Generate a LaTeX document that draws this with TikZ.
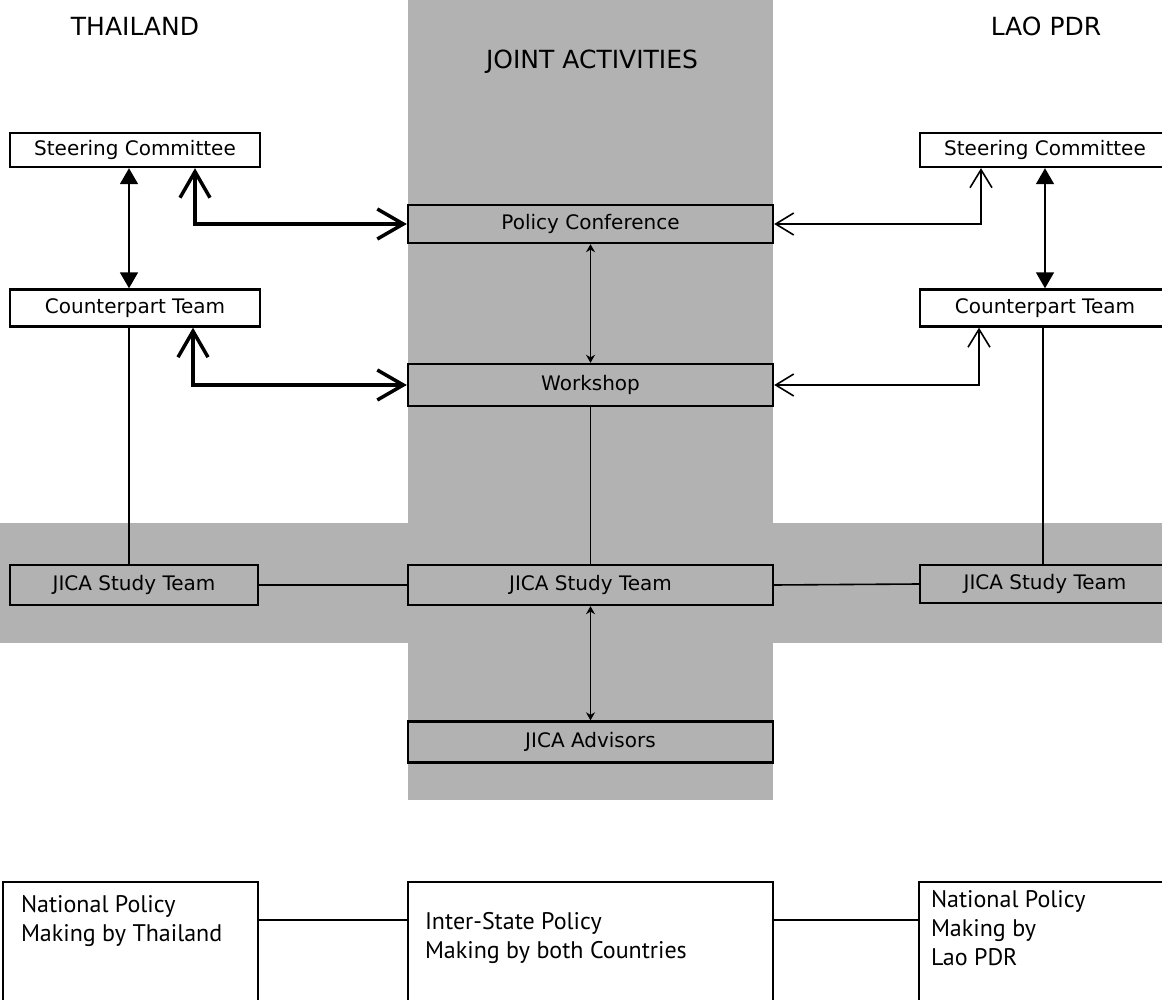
\documentclass[tikz,border=0pt]{standalone}
\usepackage{fontspec}
\setmainfont{DejaVu Sans}
\newfontfamily\policyfont{PT Sans}
\usetikzlibrary{arrows.meta,positioning}
\begin{document}
\begin{tikzpicture}[x=1pt,y=-1pt,
  halftone/.style={fill=black!30},
  box/.style={draw, line width=2.4pt, fill=white, minimum width=250, minimum height=36, inner sep=0, font=\fontsize{20}{22}\selectfont},
  jointbox/.style={box, halftone, minimum width=365, minimum height=39},
  policybox/.style={draw, line width=2.4pt, fill=white, minimum height=128, inner sep=0},
  ptext/.style={inner sep=0, align=left, anchor=north west, font=\policyfont\fontsize{24}{29}\selectfont},
  heading/.style={font=\fontsize{25}{27}\selectfont},
  link/.style={draw, line width=1.6pt},
  boldlink/.style={draw, line width=3.5pt, {Straight Barb[length=26pt,width=30pt]}-{Straight Barb[length=26pt,width=30pt]}},
  thinlink/.style={draw, line width=1.6pt, {Straight Barb[length=18pt,width=22pt]}-{Straight Barb[length=18pt,width=22pt]}},
  duallink/.style={draw, line width=1.6pt, {Triangle[length=16pt,width=18pt]}-{Triangle[length=16pt,width=18pt]}},
  smalllink/.style={draw, line width=1.6pt, {Stealth[length=8pt,width=9pt]}-{Stealth[length=8pt,width=9pt]}}
]
\useasboundingbox (0,0) rectangle (1162,1000);
\clip (0,0) rectangle (1162,1000);

% shaded bands
\fill[halftone] (408,0) rectangle (773,800);
\fill[halftone] (0,523) rectangle (1162,643);

% headings
\node[heading] (thai) at (135,26) {THAILAND};
\node[heading] (lao) at (1046,26) {LAO PDR};
\node[heading] (joint) at (592,62) {JOINT ACTIVITIES};

% Thailand side
\node[box, minimum height=34] (lsc) at (135,150) {Steering Committee};
\node[box, minimum height=37] (lct) at (135,308) {Counterpart Team};
\node[box, halftone, minimum width=248, minimum height=40] (ljt) at (134,585) {JICA Study Team};

% joint activities
\node[jointbox, minimum height=38] (pc) at (590.5,224) {Policy Conference};
\node[jointbox, minimum height=42] (ws) at (590.5,385) {Workshop};
\node[jointbox, minimum height=40] (cjt) at (590.5,585) {JICA Study Team};
\node[jointbox, minimum height=41] (adv) at (590.5,742) {JICA Advisors};

% Lao PDR side
\node[box, minimum height=34] (rsc) at (1045,150) {Steering Committee};
\node[box, minimum height=37] (rct) at (1045,308) {Counterpart Team};
\node[box, halftone, minimum height=38] (rjt) at (1045,584) {JICA Study Team};

% policy making
\node[policybox, minimum width=255] (lnp) at (130.5,946) {};
\node[policybox, minimum width=365] (mip) at (590.5,946) {};
\node[policybox, minimum width=251] (rnp) at (1044.5,946) {};
\node[ptext] (lnptext) at ([xshift=19,yshift=-14]lnp.north west) {National Policy\\Making by Thailand};
\node[ptext] (miptext) at ([xshift=18,yshift=-31]mip.north west) {Inter-State Policy\\Making by both Countries};
\node[ptext] (rnptext) at ([xshift=13,yshift=-9]rnp.north west) {National Policy\\Making by\\Lao PDR};

% connectors
\draw[duallink] ([xshift=-6]lsc.south) -- ([xshift=-6]lct.north);
\draw[duallink] (rsc.south) -- (rct.north);
\draw[boldlink] ([xshift=60]lsc.south) |- (pc.west);
\draw[boldlink] ([xshift=58]lct.south) |- (ws.west);
\draw[thinlink] (pc.east) -| ([xshift=-64]rsc.south);
\draw[thinlink] (ws.east) -| ([xshift=-66]rct.south);
\draw[smalllink] (pc.south) -- (ws.north);
\draw[smalllink] (cjt.south) -- (adv.north);
\draw[link] ([xshift=-6]lct.south) -- ([xshift=-5]ljt.north);
\draw[link] (ws.south) -- (cjt.north);
\draw[link] ([xshift=-2]rct.south) -- ([xshift=-2]rjt.north);
\draw[link] (ljt.east) -- (cjt.west);
\draw[link] (cjt.east) -- (rjt.west);
\draw[link] ([yshift=26]lnp.east) -- ([yshift=26]mip.west);
\draw[link] ([yshift=26]mip.east) -- ([yshift=26]rnp.west);
\end{tikzpicture}
\end{document}
